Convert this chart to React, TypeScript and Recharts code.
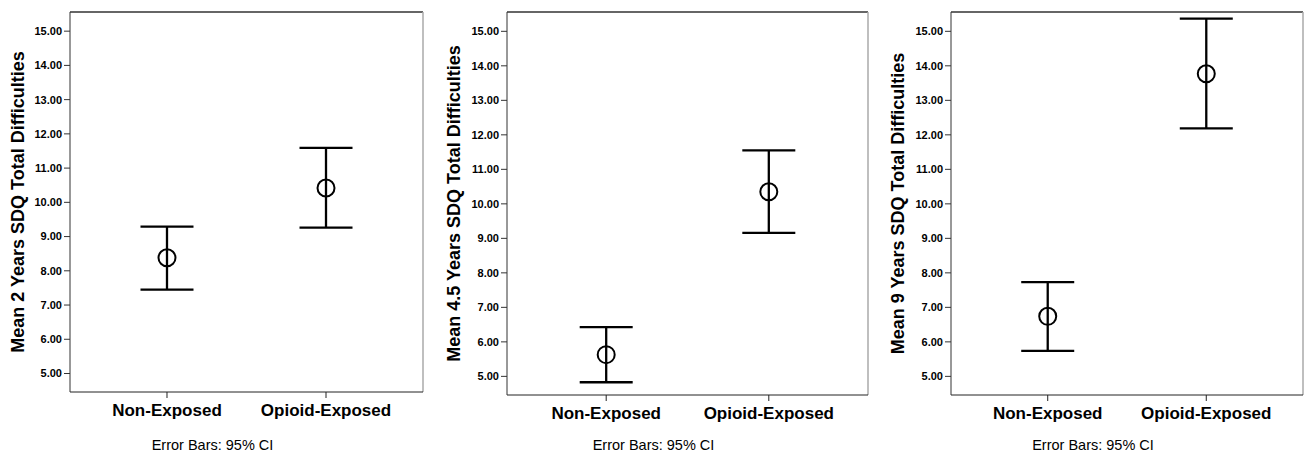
import { ComposedChart, ErrorBar, Label, ReferenceLine, Scatter, XAxis, YAxis } from 'recharts'

const groups = ['Non-Exposed', 'Opioid-Exposed']

// means and 95% CI bounds
const means2y = [8.38, 10.42]
const lower2y = [7.45, 9.26]
const upper2y = [9.29, 11.59]

const means45y = [5.63, 10.35]
const lower45y = [4.83, 9.16]
const upper45y = [6.43, 11.55]

const means9y = [6.74, 13.77]
const lower9y = [5.74, 12.19]
const upper9y = [7.73, 15.37]

const yTicks = [5, 6, 7, 8, 9, 10, 11, 12, 13, 14, 15]
const titles = [
  'Mean 2 Years SDQ Total Difficulties',
  'Mean 4.5 Years SDQ Total Difficulties',
  'Mean 9 Years SDQ Total Difficulties',
]

const Y_DOMAIN: [number, number] = [4.46, 15.56]
const X_DOMAIN: [number, number] = [0.39, 2.61]
const FONT = '"Liberation Sans", Arial, sans-serif'

function build(means: number[], lo: number[], hi: number[]) {
  return means.map((m, i) => ({ pos: i + 1, mean: m, err: [m - lo[i], hi[i] - m] }))
}

const panels = [
  { data: build(means2y, lower2y, upper2y), title: titles[0], left: 0, width: 430, yw: 70, mr: 7, xh: 65, to: 18 },
  { data: build(means45y, lower45y, upper45y), title: titles[1], left: 430, width: 445, yw: 77, mr: 7, xh: 62, to: 24 },
  { data: build(means9y, lower9y, upper9y), title: titles[2], left: 860, width: 444, yw: 91, mr: 1, xh: 62, to: 38 },
]

function OpenCircle(props: any) {
  const { cx, cy } = props
  return <circle cx={cx} cy={cy} r={8.5} fill="none" stroke="#000" strokeWidth={2} />
}

function Panel({ p }: { p: (typeof panels)[number] }) {
  return (
    <div style={{ position: 'absolute', left: p.left, top: 0 }}>
      <ComposedChart width={p.width} height={457} margin={{ top: 12, right: p.mr, bottom: 0, left: 0 }}>
        <XAxis
          dataKey="pos"
          type="number"
          domain={X_DOMAIN}
          ticks={[1, 2]}
          allowDataOverflow
          tickFormatter={(v) => groups[v - 1]}
          height={p.xh}
          stroke="#222"
          tickSize={6}
          tickMargin={6}
          tick={{ fontSize: 17, fontWeight: 'bold', fill: '#000', fontFamily: FONT }}
        >
          <Label
            value="Error Bars: 95% CI"
            position="insideBottom"
            offset={7}
            dx={-34}
            style={{ fontSize: 14.5, fill: '#000', fontFamily: FONT }}
          />
        </XAxis>
        <YAxis
          type="number"
          domain={Y_DOMAIN}
          ticks={yTicks}
          allowDataOverflow
          width={p.yw}
          stroke="#333"
          tickSize={6}
          tickMargin={2}
          tickFormatter={(v) => v.toFixed(2)}
          tick={{ fontSize: 11, fontWeight: 'bold', fill: '#000', fontFamily: FONT }}
        >
          <Label
            value={p.title}
            angle={-90}
            position="insideLeft"
            offset={p.to}
            style={{ textAnchor: 'middle', fontSize: 18, fontWeight: 'bold', fill: '#000', fontFamily: FONT }}
          />
        </YAxis>
        <ReferenceLine y={Y_DOMAIN[1]} stroke="#333" strokeWidth={1.5} />
        <ReferenceLine x={X_DOMAIN[1]} stroke="#aaa" strokeWidth={1.5} />
        <Scatter data={p.data} dataKey="mean" shape={OpenCircle} isAnimationActive={false}>
          <ErrorBar dataKey="err" direction="y" width={26.5} stroke="#000" strokeWidth={2.3} isAnimationActive={false} />
        </Scatter>
      </ComposedChart>
    </div>
  )
}

export default function App() {
  return (
    <div style={{ position: 'absolute', left: 0, top: 0, width: 1304, height: 457, background: '#fff', overflow: 'hidden' }}>
      {panels.map((p) => (
        <Panel key={p.title} p={p} />
      ))}
    </div>
  )
}
